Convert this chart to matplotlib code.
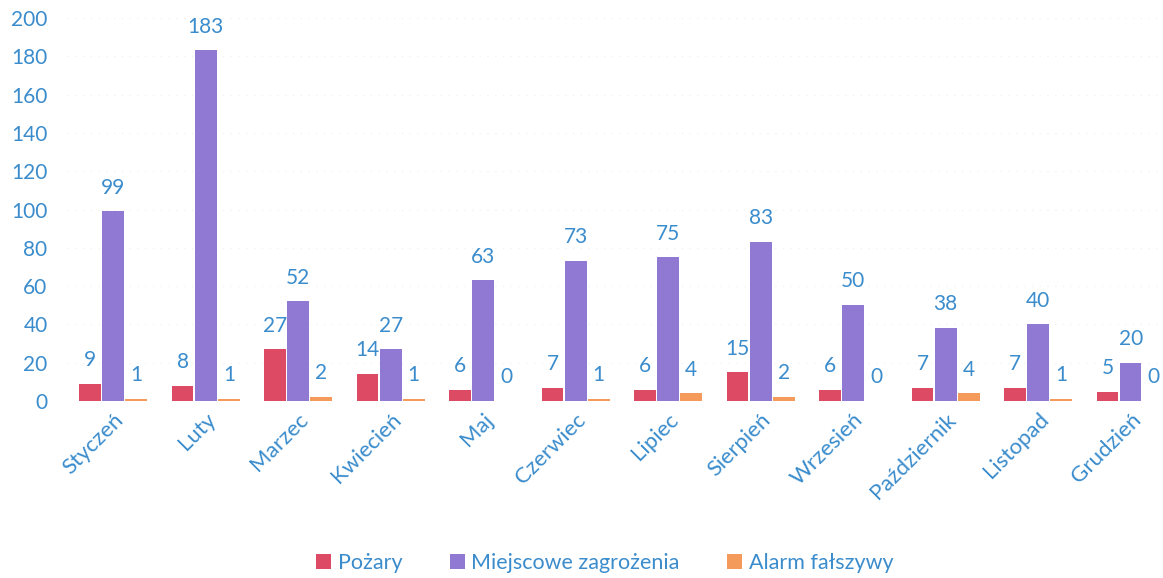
import matplotlib.pyplot as plt
import numpy as np

months = ["Styczeń", "Luty", "Marzec", "Kwiecień", "Maj", "Czerwiec",
          "Lipiec", "Sierpień", "Wrzesień", "Październik", "Listopad", "Grudzień"]
pozary = [9, 8, 27, 14, 6, 7, 6, 15, 6, 7, 7, 5]
zagrozenia = [99, 183, 52, 27, 63, 73, 75, 83, 50, 38, 40, 20]
alarmy = [1, 1, 2, 1, 0, 1, 4, 2, 0, 4, 1, 0]

plt.rcParams["font.family"] = ["Lato", "DejaVu Sans"]
txt = "#3a8ccc"
fig = plt.figure(figsize=(11.63, 5.78), dpi=100)
ax = fig.add_axes([0.0576, 0.306, 0.9424, 0.663])

x = np.arange(len(months))
w = 0.235
step = 0.25
series = [(pozary, "Pożary", "#dc4b63"),
          (zagrozenia, "Miejscowe zagrożenia", "#8f79d2"),
          (alarmy, "Alarm fałszywy", "#f49b5c")]
for i, (vals, name, col) in enumerate(series):
    pos = x + (i - 1) * step
    ax.bar(pos, vals, width=w, color=col, label=name, zorder=2)
    for px, v in zip(pos, vals):
        ax.annotate(str(v), (px, v), xytext=(0, 10), textcoords="offset points",
                    ha="center", va="bottom", color=txt, fontsize=15)

ax.set_ylim(0, 200)
ax.set_xlim(-0.5, 11.35)
ax.set_yticks(range(0, 201, 20))
ax.yaxis.grid(True, color="#eeeeee", linestyle=(0, (1, 6)), linewidth=0.8, zorder=0)
ax.set_xticks(x)
ax.set_xticklabels(months, rotation=45, ha="right", rotation_mode="anchor")
ax.tick_params(length=0, labelsize=15, labelcolor=txt)
ax.tick_params(axis="x", labelsize=16, pad=6)
ax.tick_params(axis="y", pad=14)
for s in ax.spines.values():
    s.set_visible(False)

fig.legend(loc="center", bbox_to_anchor=(0.52, 0.026), ncol=3, frameon=False,
           fontsize=15.5, labelcolor=txt, handlelength=0.7, handleheight=0.7,
           handletextpad=0.3, columnspacing=2.2)

fig.savefig("out.png", dpi=100)
